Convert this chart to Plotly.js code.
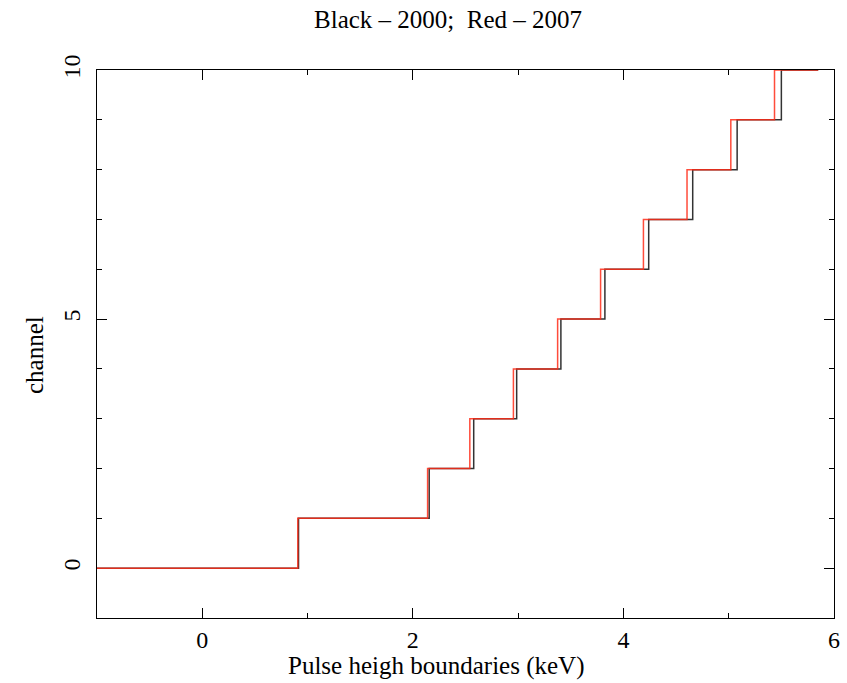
<!DOCTYPE html>
<html>
<head>
<meta charset="utf-8">
<script src="https://cdn.plot.ly/plotly-3.0.1.min.js"></script>
<style>html,body{margin:0;padding:0;background:#fff;}#plot{width:847px;height:683px;}</style>
</head>
<body>
<div id="plot"></div>
<script>
// Channel boundaries (keV)
const channels = [0, 1, 2, 3, 4, 5, 6, 7, 8, 9, 10, 10];
const black2000 = [-1, 0.914, 2.155, 2.578, 2.986, 3.406, 3.824, 4.24, 4.658, 5.08, 5.50, 5.85];
const red2007   = [-1, 0.907, 2.140, 2.541, 2.955, 3.375, 3.783, 4.19, 4.604, 5.02, 5.435, 5.85];
const titleText = 'Black \u2013 2000;  Red \u2013 2007';
const xTitle = 'Pulse heigh boundaries (keV)';
const yTitle = 'channel';

const traces = [
  {x: black2000, y: channels, mode: 'lines', line: {shape: 'hv', color: '#333333', width: 1.5}, name: '2000', hoverinfo: 'skip', cliponaxis: false},
  {x: red2007, y: channels, mode: 'lines', line: {shape: 'hv', color: 'rgba(255,45,25,0.85)', width: 1.5}, name: '2007', hoverinfo: 'skip', cliponaxis: false}
];

const FONT = 'Liberation Serif, Times New Roman, serif';
const axisCommon = {
  showgrid: false, zeroline: false, showline: true, linecolor: '#000', linewidth: 1,
  mirror: 'allticks', ticks: 'inside', ticklen: 10, tickcolor: '#000', tickwidth: 1,
  layer: 'below traces',
  tickfont: {family: FONT, size: 24, color: '#000'}
};

const layout = {
  width: 847, height: 683,
  margin: {l: 97, r: 13, t: 70, b: 65},
  paper_bgcolor: '#fff', plot_bgcolor: '#fff',
  showlegend: false,
  title: {text: titleText, x: 0.529, xanchor: 'center', y: 0.972, yanchor: 'middle',
          font: {family: FONT, size: 25, color: '#000'}},
  xaxis: Object.assign({}, axisCommon, {
    range: [-1, 6], dtick: 2, tick0: 0, ticklabelstandoff: 0,
    minor: {dtick: 1, tick0: 0, ticks: 'inside', ticklen: 5, tickcolor: '#000', tickwidth: 1}
  }),
  yaxis: Object.assign({}, axisCommon, {
    range: [-1, 10], dtick: 5, tick0: 0, tickangle: -90, ticklabelstandoff: 6,
    minor: {dtick: 1, tick0: 0, ticks: 'inside', ticklen: 5, tickcolor: '#000', tickwidth: 1}
  }),
  annotations: [
    {text: xTitle, xref: 'paper', yref: 'paper', x: 0.46, y: -0.087, xanchor: 'center', yanchor: 'middle',
     showarrow: false, font: {family: FONT, size: 25, color: '#000'}},
    {text: yTitle, xref: 'paper', yref: 'paper', x: -0.084, y: 0.48, xanchor: 'center', yanchor: 'middle',
     textangle: -90, showarrow: false, font: {family: FONT, size: 25, color: '#000'}}
  ]
};

Plotly.newPlot('plot', traces, layout, {staticPlot: true});
</script>
</body>
</html>
